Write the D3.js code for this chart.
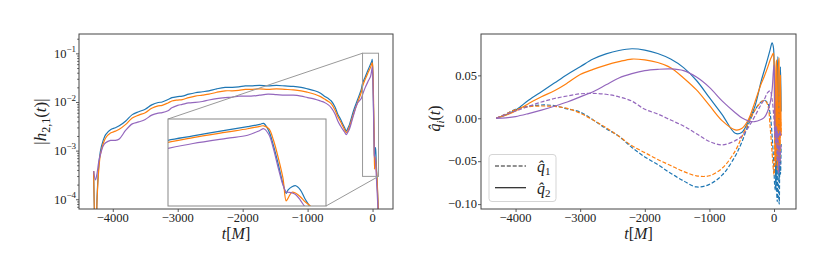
<!DOCTYPE html>
<html>
<head>
<meta charset="utf-8">
<script src="https://cdn.jsdelivr.net/npm/d3@7"></script>
<style>
  body { margin: 0; background: #fff; }
  svg text { font-family: "Liberation Serif", "DejaVu Serif", serif; fill: #222; }
</style>
</head>
<body>
<svg id="chart" width="830" height="277"></svg>
<script>
// ---------- data: left panel, log10 |h21| ----------
const tAmp = [-4295, -4265, -4240, -4215, -4190, -4150, -4110, -4035, -3960, -3900,
  -3800, -3700, -3600, -3500, -3400, -3300, -3240, -3150, -3090, -3000,
  -2930, -2830, -2730, -2620, -2520, -2400, -2270, -2160, -2060, -1960,
  -1870, -1740, -1610, -1480, -1350, -1220, -1100, -1000, -890, -800,
  -740, -680, -635, -580, -535, -490, -457, -430, -405, -380,
  -354, -320, -277, -230, -174, -154, -115, -63, -30, -11,
  -5, 3, 10, 18, 25, 30, 33, 39, 45, 52,
  59, 67, 80, 100];
const logAmpBlue = [-3.42, -5.0, -3.90, -3.30, -3.01, -2.80, -2.67, -2.57, -2.53, -2.49,
  -2.39, -2.26, -2.20, -2.15, -2.06, -2.01, -2.00, -1.95, -1.91, -1.89,
  -1.88, -1.84, -1.81, -1.79, -1.77, -1.73, -1.70, -1.70, -1.69, -1.67,
  -1.67, -1.66, -1.67, -1.66, -1.67, -1.68, -1.70, -1.73, -1.77, -1.82,
  -1.88, -1.93, -1.98, -2.10, -2.25, -2.36, -2.46, -2.53, -2.60, -2.54,
  -2.46, -2.30, -2.12, -1.95, -1.74, -1.62, -1.49, -1.32, -1.22, -1.155,
  -1.125, -1.35, -1.76, -2.34, -2.88, -3.16, -3.06, -2.97, -2.94, -3.06,
  -3.31, -3.55, -3.95, -4.60];
const logAmpOrange = [-3.42, -5.0, -3.95, -3.38, -3.08, -2.87, -2.74, -2.64, -2.60, -2.56,
  -2.46, -2.33, -2.27, -2.22, -2.13, -2.08, -2.07, -2.02, -1.98, -1.96,
  -1.95, -1.91, -1.88, -1.86, -1.84, -1.80, -1.77, -1.77, -1.76, -1.74,
  -1.74, -1.73, -1.74, -1.73, -1.74, -1.75, -1.77, -1.80, -1.84, -1.89,
  -1.94, -1.99, -2.04, -2.16, -2.30, -2.41, -2.50, -2.57, -2.63, -2.59,
  -2.51, -2.36, -2.18, -2.01, -1.80, -1.68, -1.54, -1.38, -1.28, -1.21,
  -1.195, -1.28, -1.60, -2.15, -2.72, -3.38, -3.30, -3.13, -3.16, -3.26,
  -3.40, -3.52, -3.90, -4.60];
const logAmpPurple = [-3.42, -3.60, -3.45, -3.22, -3.08, -2.91, -2.84, -2.79, -2.79, -2.76,
  -2.58, -2.45, -2.41, -2.36, -2.27, -2.23, -2.22, -2.18, -2.12, -2.07,
  -2.05, -2.02, -2.01, -1.99, -1.96, -1.93, -1.91, -1.90, -1.88, -1.88,
  -1.88, -1.86, -1.84, -1.85, -1.86, -1.86, -1.88, -1.91, -1.94, -1.98,
  -2.01, -2.06, -2.12, -2.24, -2.39, -2.50, -2.57, -2.62, -2.67, -2.62,
  -2.55, -2.40, -2.20, -2.02, -1.93, -1.85, -1.71, -1.56, -1.47, -1.33,
  -1.28, -1.45, -1.85, -2.45, -2.92, -3.12, -3.13, -3.15, -3.20, -3.36,
  -3.55, -3.75, -4.10, -4.70];

// ---------- data: right panel, q1 (dashed) and q2 (solid) ----------
const tQ = [-4300, -4150, -4000, -3800, -3600, -3400, -3200, -3000, -2800, -2600,
  -2400, -2200, -2000, -1800, -1600, -1400, -1200, -1000, -800, -600,
  -500, -400, -300, -200, -150, -100, -60, -30, -10, 0,
  10, 20, 30, 40, 50, 60, 70, 80, 90, 100, 110];
const q1Blue = [0, 0.005, 0.0105, 0.014, 0.0155, 0.0147, 0.011, 0.0072, -0.002, -0.012,
  -0.021, -0.034, -0.045, -0.054, -0.064, -0.073, -0.080, -0.077, -0.066, -0.044,
  -0.028, -0.008, 0.009, 0.019, 0.021, 0.018, 0.005, -0.020, -0.045, -0.062,
  -0.078, -0.084, -0.040, -0.085, -0.097, -0.050, -0.088, -0.100, -0.045, -0.065, -0.030];
const q2Blue = [0, 0.004, 0.0095, 0.021, 0.031, 0.041, 0.051, 0.060, 0.069, 0.075,
  0.079, 0.081, 0.0795, 0.0755, 0.069, 0.059, 0.044, 0.024, 0.004, -0.0175,
  -0.0165, -0.004, 0.013, 0.043, 0.056, 0.069, 0.080, 0.088, 0.083, 0.068,
  0.035, -0.030, -0.083, -0.040, 0.050, 0.072, -0.020, -0.070, 0.040, 0.060, 0.008];
const q1Orange = [0, 0.005, 0.010, 0.0135, 0.0143, 0.0138, 0.0115, 0.006, -0.002, -0.011,
  -0.021, -0.032, -0.040, -0.048, -0.055, -0.062, -0.067, -0.067, -0.058, -0.038,
  -0.022, -0.006, 0.009, 0.019, 0.021, 0.016, -0.010, -0.040, -0.060, -0.066,
  -0.040, 0.010, -0.050, 0.020, -0.060, 0.010, -0.045, 0.030, -0.040, 0.000, -0.020];
const q2Orange = [0, 0.0035, 0.0085, 0.017, 0.025, 0.032, 0.041, 0.051, 0.057, 0.062,
  0.066, 0.069, 0.068, 0.065, 0.059, 0.047, 0.033, 0.015, -0.003, -0.0136,
  -0.012, -0.002, 0.018, 0.040, 0.049, 0.059, 0.068, 0.073, 0.076, 0.060,
  -0.010, -0.055, 0.060, 0.068, -0.045, -0.055, 0.065, 0.070, -0.050, 0.050, -0.020];
const q1Purple = [0, 0.0045, 0.0085, 0.0138, 0.019, 0.023, 0.026, 0.0285, 0.029, 0.028,
  0.025, 0.020, 0.0105, 0.005, -0.002, -0.009, -0.018, -0.027, -0.031, -0.026,
  -0.021, -0.011, 0.002, 0.016, 0.022, 0.030, 0.032, 0.022, 0.008, -0.002,
  -0.015, -0.025, -0.031, -0.010, -0.050, -0.020, -0.064, -0.030, -0.055, -0.040, -0.030];
const q2Purple = [0, 0.0005, 0.002, 0.0055, 0.0095, 0.014, 0.019, 0.025, 0.031, 0.039,
  0.047, 0.052, 0.0555, 0.057, 0.0575, 0.0555, 0.048, 0.036, 0.020, 0.0065,
  0.0005, -0.003, -0.004, -0.0015, 0.001, 0.008, 0.018, 0.033, 0.055, 0.062,
  0.020, -0.023, -0.010, -0.025, -0.015, -0.022, -0.018, -0.020, -0.015, -0.020, -0.018];

const xTicks = [-4000, -3000, -2000, -1000, 0];
const logTicks = [-4, -3, -2, -1];
const qTicks = [-0.10, -0.05, 0.00, 0.05];
const colors = { blue: "#1f77b4", orange: "#ff7f0e", purple: "#9467bd" };

/***********************
 * layout
 ************************/
const svg = d3.select("#chart");
const L = { x0: 79, x1: 393, y0: 34, y1: 209 };
const R = { x0: 481, x1: 796, y0: 34, y1: 209 };
const inset = { x0: 168, x1: 326, y0: 119, y1: 206 };
const zoomT = [-154, 92];
const zoomV = [Math.pow(10, -3.53), Math.pow(10, -0.997)];

const xL = d3.scaleLinear().domain([-4520, 315]).range([L.x0, L.x1]);
const yL = d3.scaleLog().domain([6.3e-5, 0.25]).range([L.y1, L.y0]);
const xR = d3.scaleLinear().domain([-4535, 340]).range([R.x0, R.x1]);
const yR = d3.scaleLinear().domain([-0.1057, 0.0982]).range([R.y1, R.y0]);
const xI = d3.scaleLinear().domain(zoomT).range([inset.x0, inset.x1]);
const yI = d3.scaleLog().domain(zoomV).range([inset.y1, inset.y0]);

const smooth = d3.curveCatmullRom.alpha(0.5);

const defs = svg.append("defs");
function clip(id, b) {
  defs.append("clipPath").attr("id", id)
    .append("rect").attr("x", b.x0).attr("y", b.y0)
    .attr("width", b.x1 - b.x0).attr("height", b.y1 - b.y0);
}
clip("clipL", L); clip("clipR", R); clip("clipI", inset);

const ampSeries = [
  { c: colors.blue, v: logAmpBlue },
  { c: colors.orange, v: logAmpOrange },
  { c: colors.purple, v: logAmpPurple },
];

function ampLine(xs, ys) {
  return d3.line()
    .x((d) => xs(d[0]))
    .y((d) => ys(Math.pow(10, d[1])))
    .curve(smooth);
}

/***********************
 * left panel
 ************************/
const gL = svg.append("g").attr("clip-path", "url(#clipL)");
ampSeries.forEach((s) => {
  gL.append("path")
    .datum(tAmp.map((t, i) => [t, s.v[i]]))
    .attr("d", ampLine(xL, yL))
    .attr("fill", "none").attr("stroke", s.c).attr("stroke-width", 1.2);
});

// zoom indicator + connectors
const zx0 = xL(zoomT[0]), zx1 = xL(zoomT[1]);
const zy0 = yL(zoomV[1]), zy1 = yL(zoomV[0]);
svg.append("rect").attr("x", zx0).attr("y", zy0)
  .attr("width", zx1 - zx0).attr("height", zy1 - zy0)
  .attr("fill", "none").attr("stroke", "#999").attr("stroke-width", 1);
svg.append("line").attr("x1", zx0).attr("y1", zy0).attr("x2", inset.x0).attr("y2", inset.y0)
  .attr("stroke", "#999").attr("stroke-width", 1);
svg.append("line").attr("x1", zx1).attr("y1", zy1).attr("x2", inset.x1).attr("y2", inset.y1)
  .attr("stroke", "#999").attr("stroke-width", 1);

// inset
svg.append("rect").attr("x", inset.x0).attr("y", inset.y0)
  .attr("width", inset.x1 - inset.x0).attr("height", inset.y1 - inset.y0)
  .attr("fill", "#fff");
const gI = svg.append("g").attr("clip-path", "url(#clipI)");
ampSeries.forEach((s) => {
  gI.append("path")
    .datum(tAmp.map((t, i) => [t, s.v[i]]))
    .attr("d", ampLine(xI, yI))
    .attr("fill", "none").attr("stroke", s.c).attr("stroke-width", 1.2);
});
svg.append("rect").attr("x", inset.x0).attr("y", inset.y0)
  .attr("width", inset.x1 - inset.x0).attr("height", inset.y1 - inset.y0)
  .attr("fill", "none").attr("stroke", "#888").attr("stroke-width", 1);

// left axes
const axL = svg.append("g");
axL.append("g").attr("transform", `translate(0,${L.y1})`)
  .call(d3.axisBottom(xL).tickValues(xTicks).tickSize(3).tickFormat(""));
axL.append("g").attr("transform", `translate(${L.x0},0)`)
  .call(d3.axisLeft(yL).tickValues(logTicks.map((k) => Math.pow(10, k))).tickSize(3).tickFormat(""));
const minors = [];
for (let k = -5; k <= -1; k++) for (let m = 2; m <= 9; m++) {
  const v = m * Math.pow(10, k);
  if (v > yL.domain()[0] && v < yL.domain()[1]) minors.push(v);
}
axL.append("g").attr("transform", `translate(${L.x0},0)`)
  .call(d3.axisLeft(yL).tickValues(minors).tickSize(1.8).tickFormat(""));
axL.selectAll(".domain").remove();
axL.selectAll(".tick line").attr("stroke", "#333").attr("stroke-width", 0.8);

svg.append("rect").attr("x", L.x0).attr("y", L.y0)
  .attr("width", L.x1 - L.x0).attr("height", L.y1 - L.y0)
  .attr("fill", "none").attr("stroke", "#444").attr("stroke-width", 1);

const fmt = (v) => (v < 0 ? "\u2212" : "") + Math.abs(v);
svg.append("g").selectAll("text").data(xTicks).join("text")
  .attr("x", (d) => xL(d)).attr("y", 222)
  .attr("text-anchor", "middle").attr("font-size", 12.5)
  .text(fmt);

const logLab = svg.append("g").selectAll("text").data(logTicks).join("text")
  .attr("x", 76).attr("y", (d) => yL(Math.pow(10, d)) + 4.3)
  .attr("text-anchor", "end").attr("font-size", 12.5);
logLab.append("tspan").text("10");
logLab.append("tspan").attr("dy", -5.5).attr("font-size", 9).text((d) => "\u2212" + Math.abs(d));

// left labels
const yLab = svg.append("text")
  .attr("transform", `translate(46,${(L.y0 + L.y1) / 2}) rotate(-90)`)
  .attr("text-anchor", "middle").attr("font-size", 17);
yLab.append("tspan").text("|");
yLab.append("tspan").attr("font-style", "italic").text("h");
yLab.append("tspan").attr("font-size", 12).attr("dy", 3.5).text("2,1");
yLab.append("tspan").attr("dy", -3.5).text("(");
yLab.append("tspan").attr("font-style", "italic").text("t");
yLab.append("tspan").text(")|");

function xLabel(cx) {
  const t = svg.append("text").attr("x", cx).attr("y", 238.5)
    .attr("text-anchor", "middle").attr("font-size", 16);
  t.append("tspan").attr("font-style", "italic").text("t");
  t.append("tspan").text("[");
  t.append("tspan").attr("font-style", "italic").text("M");
  t.append("tspan").text("]");
}
xLabel((L.x0 + L.x1) / 2);

/***********************
 * right panel
 ************************/
const qSeries = [
  { c: colors.blue, v: q1Blue, dash: true },
  { c: colors.blue, v: q2Blue, dash: false },
  { c: colors.orange, v: q1Orange, dash: true },
  { c: colors.orange, v: q2Orange, dash: false },
  { c: colors.purple, v: q1Purple, dash: true },
  { c: colors.purple, v: q2Purple, dash: false },
];
const qLine = d3.line().x((d) => xR(d[0])).y((d) => yR(d[1])).curve(smooth);
const gR = svg.append("g").attr("clip-path", "url(#clipR)");
qSeries.forEach((s) => {
  gR.append("path")
    .datum(tQ.map((t, i) => [t, s.v[i]]))
    .attr("d", qLine)
    .attr("fill", "none").attr("stroke", s.c).attr("stroke-width", 1.2)
    .attr("stroke-dasharray", s.dash ? "4,1.9" : null);
});

const axR = svg.append("g");
axR.append("g").attr("transform", `translate(0,${R.y1})`)
  .call(d3.axisBottom(xR).tickValues(xTicks).tickSize(3).tickFormat(""));
axR.append("g").attr("transform", `translate(${R.x0},0)`)
  .call(d3.axisLeft(yR).tickValues(qTicks).tickSize(3).tickFormat(""));
axR.selectAll(".domain").remove();
axR.selectAll(".tick line").attr("stroke", "#333").attr("stroke-width", 0.8);

svg.append("rect").attr("x", R.x0).attr("y", R.y0)
  .attr("width", R.x1 - R.x0).attr("height", R.y1 - R.y0)
  .attr("fill", "none").attr("stroke", "#444").attr("stroke-width", 1);

svg.append("g").selectAll("text").data(xTicks).join("text")
  .attr("x", (d) => xR(d)).attr("y", 222)
  .attr("text-anchor", "middle").attr("font-size", 12.5)
  .text(fmt);
svg.append("g").selectAll("text").data(qTicks).join("text")
  .attr("x", 477).attr("y", (d) => yR(d) + 4.3)
  .attr("text-anchor", "end").attr("font-size", 12.5)
  .text((d) => (d < 0 ? "\u2212" : "") + Math.abs(d).toFixed(2));

const qLab = svg.append("text")
  .attr("transform", `translate(440,${(R.y0 + R.y1) / 2 - 3}) rotate(-90)`)
  .attr("text-anchor", "middle").attr("font-size", 16);
qLab.append("tspan").attr("font-style", "italic").text("q\u0302");
qLab.append("tspan").attr("font-style", "italic").attr("font-size", 11).attr("dy", 3.5).text("i");
qLab.append("tspan").attr("dy", -3.5).text("(");
qLab.append("tspan").attr("font-style", "italic").text("t");
qLab.append("tspan").text(")");

xLabel((R.x0 + R.x1) / 2);

// legend
const lg = svg.append("g");
lg.append("rect").attr("x", 489).attr("y", 154.5).attr("width", 67).attr("height", 47)
  .attr("rx", 3).attr("fill", "#fff").attr("fill-opacity", 0.8)
  .attr("stroke", "#d5d5d5").attr("stroke-width", 1);
[["1", true, 166], ["2", false, 187.7]].forEach(([sub, dash, y]) => {
  lg.append("line").attr("x1", 495).attr("x2", 526).attr("y1", y).attr("y2", y)
    .attr("stroke", "#222").attr("stroke-width", 1.2)
    .attr("stroke-dasharray", dash ? "4,1.9" : null);
  const t = lg.append("text").attr("x", 537).attr("y", y + 6).attr("font-size", 16);
  t.append("tspan").attr("font-style", "italic").text("q\u0302");
  t.append("tspan").attr("font-size", 11).attr("dy", 3).text(sub);
});
</script>
</body>
</html>
